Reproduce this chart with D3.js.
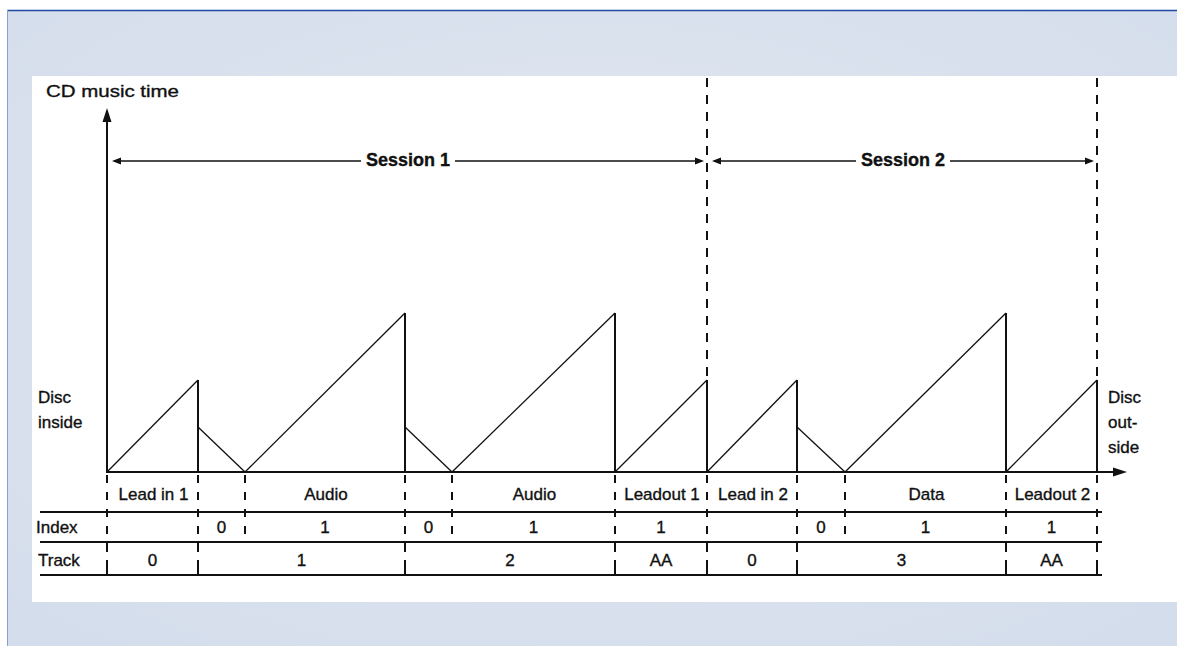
<!DOCTYPE html>
<html>
<head>
<meta charset="utf-8">
<script src="https://cdnjs.cloudflare.com/ajax/libs/d3/7.8.5/d3.min.js"></script>
<style>
  html, body { margin: 0; padding: 0; background: #fff; }
  svg { display: block; }
  text { font-family: "Liberation Sans", Arial, sans-serif; fill: #111; stroke: #111; stroke-width: 0.35px; }
</style>
</head>
<body>
<div id="chart"></div>
<script>
// time positions along the disc (arbitrary units) and heights of the music time saw-tooth
const segLabels = ["Lead in 1", "", "Audio", "", "Audio", "Leadout 1", "Lead in 2", "", "Data", "Leadout 2"];
const segStart  = [0, 91, 138, 298, 345, 508, 600, 690, 738, 899];
const segEnd    = [91, 138, 298, 345, 508, 600, 690, 738, 899, 990];
const segKind   = ["rise", "fall", "rise", "fall", "rise", "rise", "rise", "fall", "rise", "rise"];
const segPeak   = [92, 45, 159, 45, 159, 92, 92, 45, 159, 92];
const indexVals = ["", "0", "1", "0", "1", "1", "", "0", "1", "1"];

const trackVals  = ["0", "1", "2", "AA", "0", "3", "AA"];
const trackStart = [0, 91, 298, 508, 600, 690, 899];
const trackEnd   = [91, 298, 508, 600, 690, 899, 990];

const sessionNames = ["Session 1", "Session 2"];
const sessionStart = [0, 600];
const sessionEnd   = [600, 990];

const rowNames = ["Index", "Track"];

const width = 1177, height = 646;

const svg = d3.select("#chart").append("svg")
  .attr("width", width)
  .attr("height", height);

// panel background
const defs = svg.append("defs");
const grad = defs.append("radialGradient").attr("id", "bg")
  .attr("cx", "50%").attr("cy", "45%").attr("r", "70%");
grad.append("stop").attr("offset", "0%").attr("stop-color", "#e3e9f3");
grad.append("stop").attr("offset", "100%").attr("stop-color", "#d4ddeb");

svg.append("rect").attr("x", 7).attr("y", 10).attr("width", width - 7).attr("height", height - 10)
  .attr("fill", "url(#bg)");
svg.append("line").attr("x1", 7).attr("x2", width).attr("y1", 10.5).attr("y2", 10.5)
  .attr("stroke", "#2249a3").attr("stroke-width", 1.5);
svg.append("line").attr("x1", 7.5).attr("x2", 7.5).attr("y1", 10).attr("y2", height)
  .attr("stroke", "#8c9fd0").attr("stroke-width", 1);
svg.append("rect").attr("x", 32).attr("y", 76).attr("width", width - 32).attr("height", 526)
  .attr("fill", "#fff");

// scales
const x = d3.scaleLinear().domain([0, 1020]).range([107, 1127]);
const y = d3.scaleLinear().domain([0, 364]).range([472, 108]);

const rowY = { label: 500, index: 533, track: 566 };
const lineY = [512, 542, 575];

const g = svg.append("g");

function arrow(tx, ty, dir, len, hw) {
  // dir: "up", "right", "left"
  let p;
  if (dir === "up") p = [[tx, ty], [tx - hw, ty + len], [tx + hw, ty + len]];
  else if (dir === "right") p = [[tx, ty], [tx - len, ty - hw], [tx - len, ty + hw]];
  else p = [[tx, ty], [tx + len, ty - hw], [tx + len, ty + hw]];
  g.append("path").attr("d", "M" + p.join("L") + "Z").attr("fill", "#111");
}

// axes
g.append("line").attr("x1", x(0)).attr("x2", x(0)).attr("y1", y(0) + 1).attr("y2", y(364) + 6)
  .attr("stroke", "#111").attr("stroke-width", 2);
arrow(x(0), y(364), "up", 14, 4.5);
g.append("line").attr("x1", x(0) - 1).attr("x2", x(1020) - 6).attr("y1", y(0)).attr("y2", y(0))
  .attr("stroke", "#111").attr("stroke-width", 2);
arrow(x(1020), y(0), "right", 14, 4.5);

g.append("text").attr("x", 46).attr("y", 97).attr("font-size", 17)
  .attr("textLength", 133).attr("lengthAdjust", "spacingAndGlyphs").text("CD music time");

// saw-tooth
segKind.forEach((k, i) => {
  const x0 = x(segStart[i]), x1 = x(segEnd[i]);
  if (k === "rise") {
    g.append("line").attr("x1", x0).attr("y1", y(0)).attr("x2", x1).attr("y2", y(segPeak[i]))
      .attr("stroke", "#111").attr("stroke-width", 1.3);
    g.append("line").attr("x1", x1).attr("y1", y(0)).attr("x2", x1).attr("y2", y(segPeak[i]))
      .attr("stroke", "#111").attr("stroke-width", 2);
  } else {
    g.append("line").attr("x1", x0).attr("y1", y(segPeak[i])).attr("x2", x1).attr("y2", y(0))
      .attr("stroke", "#111").attr("stroke-width", 1.3);
  }
});

// session boundaries (tall dashed)
sessionEnd.forEach(e => {
  g.append("line").attr("x1", x(e)).attr("x2", x(e)).attr("y1", 78).attr("y2", y(92))
    .attr("stroke", "#111").attr("stroke-width", 2).attr("stroke-dasharray", "9,8");
});

// session arrows
sessionNames.forEach((name, i) => {
  const a = x(sessionStart[i]) + 5, b = x(sessionEnd[i]) - 3;
  const mid = (a + b) / 2;
  const t = g.append("text").attr("x", mid).attr("y", 166).attr("text-anchor", "middle")
    .attr("font-size", 18).attr("font-weight", "bold").text(name);
  const w = t.node().getComputedTextLength();
  g.append("line").attr("x1", a + 2).attr("x2", mid - w / 2 - 5).attr("y1", 161).attr("y2", 161)
    .attr("stroke", "#111").attr("stroke-width", 1.6);
  g.append("line").attr("x1", mid + w / 2 + 5).attr("x2", b - 2).attr("y1", 161).attr("y2", 161)
    .attr("stroke", "#111").attr("stroke-width", 1.6);
  arrow(a, 161, "left", 9, 3.5);
  arrow(b, 161, "right", 9, 3.5);
});

// side labels
g.append("text").attr("x", 38).attr("y", 403).attr("font-size", 17).text("Disc");
g.append("text").attr("x", 38).attr("y", 428).attr("font-size", 17).text("inside");
["Disc", "out-", "side"].forEach((t, i) => {
  g.append("text").attr("x", 1108).attr("y", 403 + i * 25).attr("font-size", 17).text(t);
});

// table lines
lineY.forEach(ly => {
  g.append("line").attr("x1", 40).attr("x2", 1102).attr("y1", ly).attr("y2", ly)
    .attr("stroke", "#111").attr("stroke-width", 2);
});

// boundaries in label + index rows
const segBounds = Array.from(new Set(segStart.concat(segEnd)));
segBounds.forEach(b => {
  g.append("line").attr("x1", x(b)).attr("x2", x(b)).attr("y1", y(0) + 3).attr("y2", lineY[1])
    .attr("stroke", "#111").attr("stroke-width", 2).attr("stroke-dasharray", "8,9");
});
const trackBounds = Array.from(new Set(trackStart.concat(trackEnd)));
trackBounds.forEach(b => {
  g.append("line").attr("x1", x(b)).attr("x2", x(b)).attr("y1", lineY[1]).attr("y2", lineY[2])
    .attr("stroke", "#111").attr("stroke-width", 2).attr("stroke-dasharray", "10,8,15");
});

// row texts
segLabels.forEach((t, i) => {
  if (!t) return;
  g.append("text").attr("x", (x(segStart[i]) + x(segEnd[i])) / 2 + 1).attr("y", rowY.label)
    .attr("text-anchor", "middle").attr("font-size", 17).text(t);
});
indexVals.forEach((t, i) => {
  if (!t) return;
  g.append("text").attr("x", (x(segStart[i]) + x(segEnd[i])) / 2).attr("y", rowY.index)
    .attr("text-anchor", "middle").attr("font-size", 17).text(t);
});
trackVals.forEach((t, i) => {
  g.append("text").attr("x", (x(trackStart[i]) + x(trackEnd[i])) / 2).attr("y", rowY.track)
    .attr("text-anchor", "middle").attr("font-size", 17).text(t);
});
g.append("text").attr("x", 36).attr("y", rowY.index).attr("font-size", 17).text(rowNames[0]);
g.append("text").attr("x", 38).attr("y", rowY.track).attr("font-size", 17).text(rowNames[1]);
</script>
</body>
</html>
